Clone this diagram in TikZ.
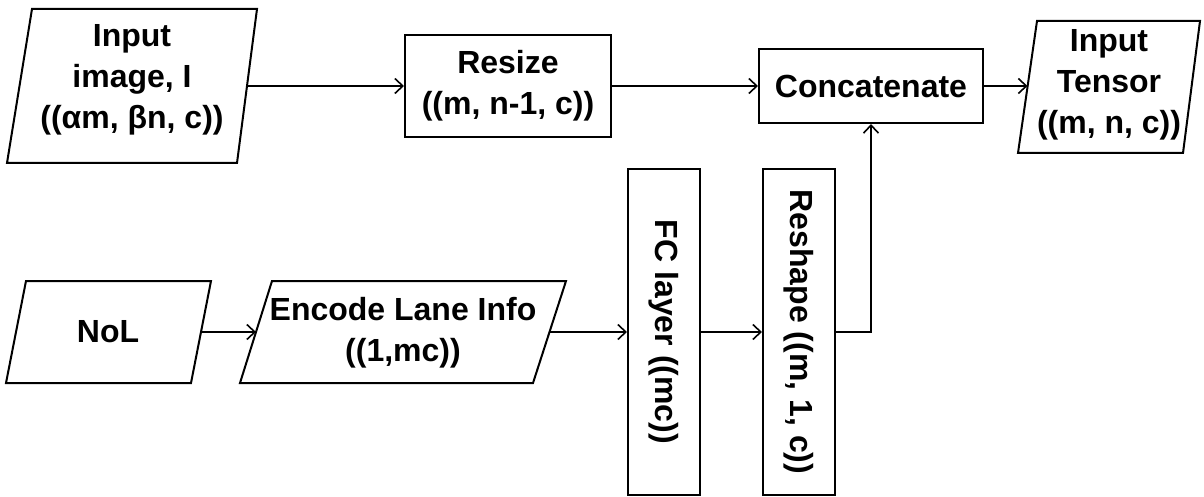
\documentclass[tikz,border=0pt]{standalone}
\usepackage{fontspec}
\setmainfont{Liberation Sans}
\usetikzlibrary{arrows.meta}
\begin{document}
\begin{tikzpicture}[x=1pt,y=-1pt,
  lbl/.style={font=\bfseries\fontsize{32}{41}\selectfont, align=center, inner sep=0pt},
  box/.style={lbl, draw, line width=2pt},
  para/.style={draw, line width=2pt, line join=miter},
  conn/.style={line width=1.8pt, -{Straight Barb[length=8pt,width=15pt,line width=1.6pt]}}]
\useasboundingbox (0,0) rectangle (1204,497);
% parallelogram outlines
\draw[para] (32,9) -- (257,9) -- (237,163) -- (7,163) -- cycle;
\draw[para] (1037,21) -- (1200,21) -- (1183,153) -- (1018,153) -- cycle;
\draw[para] (26,281) -- (211,281) -- (191,383) -- (6,383) -- cycle;
\draw[para] (272,281) -- (566,281) -- (533,383) -- (240,383) -- cycle;
% texts of parallelograms
\node[lbl] (img) at (132,80) {Input\\image, I\\((αm, βn, c))};
\node[lbl] (ten) at (1109,85) {Input\\Tensor\\((m, n, c))};
\node[lbl] (nol) at (108,332) {NoL};
\node[lbl] (enc) at (403,333) {Encode Lane Info\\((1,mc))};
% rectangles
\node[box, minimum width=206pt, minimum height=102pt] (resize) at (508,86) {Resize\\((m, n-1, c))};
\node[box, minimum width=224pt, minimum height=74pt] (concat) at (871,86) {Concatenate};
\node[box, rotate=-90, minimum width=326pt, minimum height=72pt] (fc) at (664,332) {FC layer ((mc))};
\node[box, rotate=-90, minimum width=326pt, minimum height=72pt] (resh) at (799,332) {Reshape ((m, 1, c))};
% edge points of parallelograms
\coordinate (imgE) at (247,86);
\coordinate (tenW) at (1027.5,86);
\coordinate (nolE) at (201,332);
\coordinate (encW) at (256,332);
\coordinate (encE) at (549,332);
% connectors (rotated boxes: south is the left side, north the right side)
\draw[conn] (imgE) -- (resize.west);
\draw[conn] (resize.east) -- (concat.west);
\draw[conn] (concat.east) -- (tenW);
\draw[conn] (nolE) -- (encW);
\draw[conn] (encE) -- (fc.south);
\draw[conn] (fc.north) -- (resh.south);
\draw[conn] (resh.north) -| (concat.south);
\end{tikzpicture}
\end{document}
